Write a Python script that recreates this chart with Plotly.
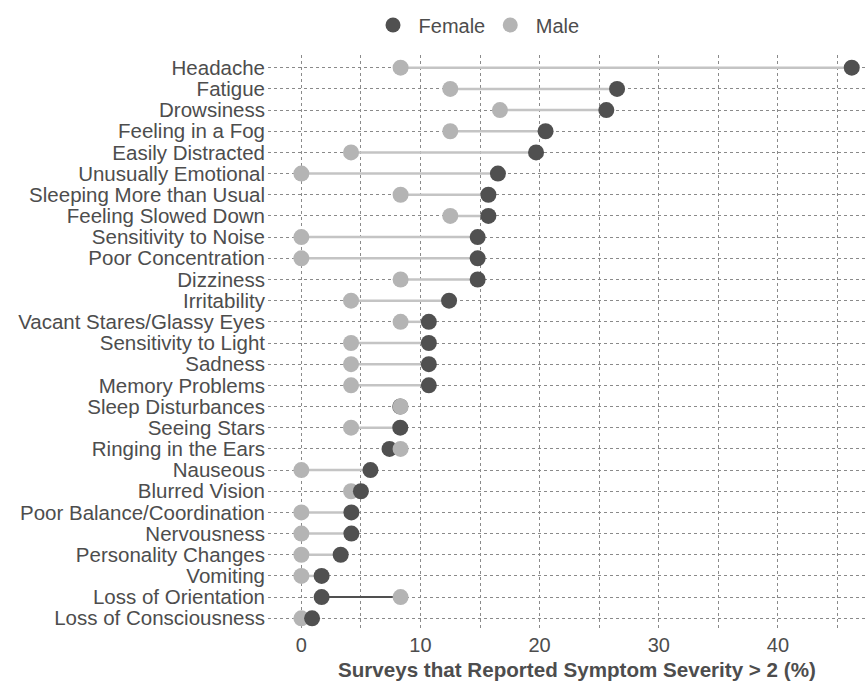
import plotly.graph_objects as go

symptoms = [
    "Headache", "Fatigue", "Drowsiness", "Feeling in a Fog", "Easily Distracted",
    "Unusually Emotional", "Sleeping More than Usual", "Feeling Slowed Down",
    "Sensitivity to Noise", "Poor Concentration", "Dizziness", "Irritability",
    "Vacant Stares/Glassy Eyes", "Sensitivity to Light", "Sadness", "Memory Problems",
    "Sleep Disturbances", "Seeing Stars", "Ringing in the Ears", "Nauseous",
    "Blurred Vision", "Poor Balance/Coordination", "Nervousness", "Personality Changes",
    "Vomiting", "Loss of Orientation", "Loss of Consciousness",
]
female = [46.2, 26.5, 25.6, 20.5, 19.7, 16.5, 15.7, 15.7, 14.8, 14.8, 14.8, 12.4,
          10.7, 10.7, 10.7, 10.7, 8.3, 8.3, 7.4, 5.8, 5.0, 4.2, 4.2, 3.3, 1.7, 1.7, 0.9]
male = [8.33, 12.5, 16.67, 12.5, 4.17, 0, 8.33, 12.5, 0, 0, 8.33, 4.17,
        8.33, 4.17, 4.17, 4.17, 8.33, 4.17, 8.33, 0, 4.17, 0, 0, 0, 0, 8.33, 0]
x_ticks = [0, 10, 20, 30, 40]

C_F = "#505050"
C_M = "#b4b4b4"
TXT = "#4d4d4d"
FONT = "Liberation Sans, Arial, sans-serif"

fig = go.Figure()

# segments
gx, gy, dx, dy = [], [], [], []
for s, f, m in zip(symptoms, female, male):
    if f >= m:
        gx += [m, f, None]; gy += [s, s, None]
    else:
        dx += [f, m, None]; dy += [s, s, None]
fig.add_trace(go.Scatter(x=gx, y=gy, mode="lines", line=dict(color="#c4c4c4", width=2.5),
                         showlegend=False, hoverinfo="skip"))
fig.add_trace(go.Scatter(x=dx, y=dy, mode="lines", line=dict(color=C_F, width=2),
                         showlegend=False, hoverinfo="skip"))

# markers: smaller value first, larger on top
lo_x, lo_c, hi_x, hi_c = [], [], [], []
for f, m in zip(female, male):
    if f > m:
        lo_x.append(m); lo_c.append(C_M); hi_x.append(f); hi_c.append(C_F)
    else:
        lo_x.append(f); lo_c.append(C_F); hi_x.append(m); hi_c.append(C_M)
fig.add_trace(go.Scatter(x=lo_x, y=symptoms, mode="markers",
                         marker=dict(size=16, color=lo_c, line=dict(width=0)), showlegend=False))
fig.add_trace(go.Scatter(x=hi_x, y=symptoms, mode="markers",
                         marker=dict(size=16, color=hi_c, line=dict(width=0)), showlegend=False))

# legend entries
fig.add_trace(go.Scatter(x=[None], y=[None], mode="markers", name=" Female",
                         marker=dict(size=15, color=C_F)))
fig.add_trace(go.Scatter(x=[None], y=[None], mode="markers", name=" Male",
                         marker=dict(size=15, color=C_M)))

GC = "#8a8a8a"
GD = "3px,3px"
fig.update_layout(
    width=867, height=681,
    margin=dict(l=268, r=0, t=55, b=50, autoexpand=False),
    plot_bgcolor="white", paper_bgcolor="white",
    font=dict(family=FONT, size=20, color=TXT),
    showlegend=True,
    legend=dict(orientation="h", x=(373 - 268) / 599, xanchor="left", y=1 + 30 / 576,
                yanchor="middle", font=dict(size=20, color=TXT), bgcolor="rgba(0,0,0,0)",
                tracegroupgap=0, itemclick=False),
    xaxis=dict(range=[-2.8, 47.48], tickmode="array", tickvals=x_ticks, showgrid=True,
               gridcolor=GC, gridwidth=1, griddash=GD, zeroline=False, showline=False,
               ticks="", tickfont=dict(size=20, color=TXT), automargin=False,
               minor=dict(dtick=5, tick0=0, showgrid=True, gridcolor=GC,
                          gridwidth=1, griddash=GD)),
    yaxis=dict(type="category", categoryorder="array", categoryarray=symptoms[::-1],
               tickmode="array", tickvals=symptoms, ticktext=symptoms,
               range=[-0.6, len(symptoms) - 0.4], showgrid=True, gridcolor=GC,
               gridwidth=1, griddash=GD, zeroline=False, showline=False, automargin=False,
               ticks="", ticklabelstandoff=2, tickfont=dict(size=20.5, color=TXT)),
    annotations=[dict(text="<b>Surveys that Reported Symptom Severity > 2 (%)</b>",
                      xref="paper", yref="paper", x=(577 - 268) / 599, y=-(669 - 631) / 576,
                      xanchor="center", yanchor="middle", showarrow=False,
                      font=dict(size=20.6, color=TXT))],
)

fig.write_html("out.html", config={"displayModeBar": False},
               post_script="document.body.style.margin='0';document.body.style.overflow='hidden';")
